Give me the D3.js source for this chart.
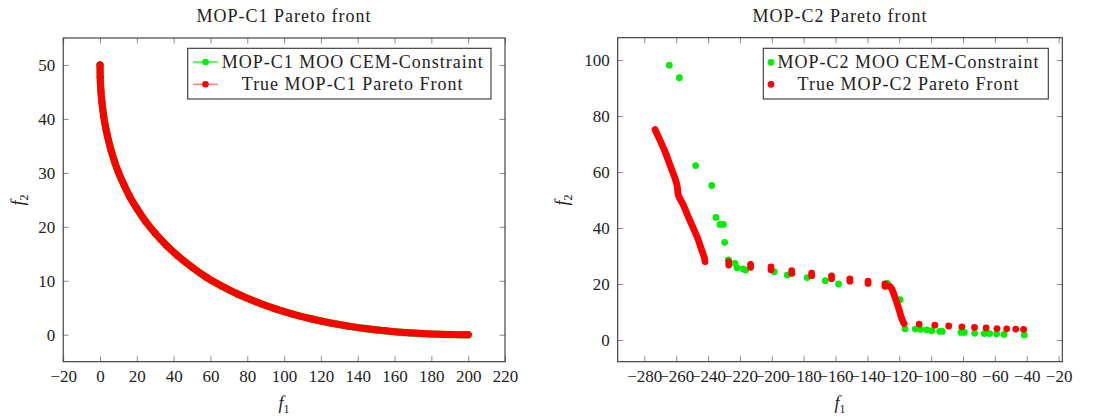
<!DOCTYPE html>
<html><head><meta charset="utf-8">
<script src="https://cdn.jsdelivr.net/npm/d3@7"></script>
<style>
body{margin:0;background:#fff;}
svg text{font-family:"Liberation Serif","Times New Roman",serif !important;fill:#222;}
</style></head><body>
<svg id="c" width="1096" height="418" font-family="Liberation Serif"></svg>
<script>
// ---------- MOP-C1 ----------
const c1TrueF1 = [0,0.1,0.5,1,2,3,4,6,8,10,13,16,20,25,30,36,42,50,58,66,75,85,95,105,115,125,135,145,155,165,175,185,192,200];
const c1TrueF2 = [50,47.8,45.1,43.2,40.5,38.5,36.9,34.2,32,30.1,27.8,25.7,23.4,20.9,18.8,16.6,14.7,12.5,10.6,9.05,7.51,6.06,4.83,3.79,2.92,2.19,1.59,1.10,0.72,0.42,0.21,0.07,0.02,0];
const c1MooF1 = [0,0.1,0.5,1,2,3,4,6,8,10,13,16,20,25,30,36,42,50,58,66,75,85,95,105,115,125,135,145,155,165,175,185,192,200];
const c1MooF2 = [50,47.8,45.1,43.2,40.5,38.5,36.9,34.2,32,30.1,27.8,25.7,23.4,20.9,18.8,16.6,14.7,12.5,10.6,9.05,7.51,6.06,4.83,3.79,2.92,2.19,1.59,1.10,0.72,0.42,0.21,0.07,0.02,0];
const c1XTicks = [-20,0,20,40,60,80,100,120,140,160,180,200,220];
const c1YTicks = [0,10,20,30,40,50];

// ---------- MOP-C2 ----------
const c2MooF1 = [-264.3,-258.0,-247.8,-237.7,-235.0,-232.5,-230.4,-229.6,-227.3,-223.1,-221.8,-217.9,-216.4,-198.5,-190.3,-177.8,-166.5,-158.1,-127.5,-119.5,-116.4,-109.9,-106.6,-102.8,-99.6,-94.6,-93.0,-81.3,-79.2,-72.7,-66.7,-63.3,-58.9,-54.2,-41.6];
const c2MooF2 = [98.2,93.7,62.3,55.2,43.8,41.3,41.3,34.9,28.6,27.4,25.8,25.4,25.0,24.4,23.2,22.3,21.2,20.0,20.2,14.4,4.0,3.9,3.8,3.6,3.3,3.1,3.1,2.7,2.7,2.4,2.3,2.3,2.2,2.0,1.8];
const c2TrueDense1F1 = [-273.3,-270.2,-267.0,-263.9,-260.7,-259.3,-258.7,-255.5,-252.4,-249.2,-246.1,-244.0,-242.5,-241.9];
const c2TrueDense1F2 = [75.2,71.4,67.3,62.5,57.7,54.8,51.8,48.2,44.0,39.9,35.7,32.1,29.8,28.0];
const c2TrueDense2F1 = [-126.5,-125.0,-123.8,-122.5,-121.2,-120.0,-119.0,-118.0,-117.0];
const c2TrueDense2F2 = [19.3,18.6,17.0,15.0,12.8,10.6,8.6,7.0,5.9];
const c2TrueSparseF1 = [-227.0,-227.0,-213.3,-213.3,-200.5,-200.5,-187.5,-187.5,-175.0,-175.0,-162.5,-162.5,-151.0,-151.0,-139.6,-139.6,-129.0,-129.0,-107.5,-97.7,-89.0,-80.7,-72.8,-65.5,-58.7,-52.6,-46.9,-42.0];
const c2TrueSparseF2 = [27.9,26.8,27.0,26.0,26.1,25.1,24.8,23.8,23.9,23.0,22.9,21.9,21.8,21.0,21.0,20.2,20.0,19.2,5.7,5.3,5.0,4.7,4.5,4.3,4.1,4.0,3.9,3.8];
const c2XTicks = [-280,-260,-240,-220,-200,-180,-160,-140,-120,-100,-80,-60,-40,-20];
const c2YTicks = [0,20,40,60,80,100];

const GREEN = "#00ee00", RED = "#ff0000";
const FONT = "Liberation Serif";
const svg = d3.select("#c");
const zip = (a,b) => a.map((v,i)=>[v,b[i]]);

function frame(g, x, y, xt, yt, x0,x1,y0,y1){
  const ts = -5.5;
  const axes = [
    g.append("g").attr("transform",`translate(0,${y1})`)
      .call(d3.axisBottom(x).tickValues(xt).tickSize(ts).tickPadding(8).tickFormat(d3.format("d"))),
    g.append("g").attr("transform",`translate(0,${y0})`)
      .call(d3.axisTop(x).tickValues(xt).tickSize(ts).tickFormat("")),
    g.append("g").attr("transform",`translate(${x0},0)`)
      .call(d3.axisLeft(y).tickValues(yt).tickSize(ts).tickPadding(8).tickFormat(d3.format("d"))),
    g.append("g").attr("transform",`translate(${x1},0)`)
      .call(d3.axisRight(y).tickValues(yt).tickSize(ts).tickFormat(""))
  ];
  axes.forEach(a=>a.attr("font-family",FONT).attr("font-size",17));
  g.selectAll(".domain").remove();
  g.selectAll(".tick line").attr("stroke","#8a8a8a").attr("stroke-width",1);
  g.selectAll(".tick text").attr("fill","#222").attr("font-family",FONT).attr("font-size",17);
  g.append("rect").attr("x",x0).attr("y",y0).attr("width",x1-x0).attr("height",y1-y0)
    .attr("fill","none").attr("stroke","#333").attr("stroke-width",1.1);
}
function axisLabel(g, txt, x, y, rot){
  const t = g.append("text").attr("text-anchor","middle").attr("font-size",18).attr("font-family",FONT)
    .attr("transform",`translate(${x},${y})${rot?" rotate(-90)":""}`);
  t.append("tspan").attr("font-style","italic").text("f");
  t.append("tspan").attr("font-size",12).attr("dy",4).text(txt);
}
function title(g, txt, x){
  g.append("text").attr("x",x).attr("y",22).attr("text-anchor","middle").attr("font-family",FONT)
    .attr("font-size",18).attr("font-weight","normal").attr("letter-spacing","1px").text(txt);
}

// ----- Left chart -----
{
  const x0=63.2,x1=505,y0=38,y1=361.7;
  const x = d3.scaleLinear().domain([-20,220]).range([x0,x1]);
  const y = d3.scaleLinear().domain([-5,55]).range([y1,y0]);
  const g = svg.append("g");
  const line = d3.line().x(d=>x(d[0])).y(d=>y(d[1])).curve(d3.curveMonotoneX);
  const moo = zip(c1MooF1,c1MooF2), tru = zip(c1TrueF1,c1TrueF2);
  g.append("path").datum(moo).attr("d",line).attr("fill","none").attr("stroke",GREEN)
    .attr("stroke-width",7.4).attr("stroke-linecap","round").attr("stroke-linejoin","round");
  g.append("path").datum(tru).attr("d",line).attr("fill","none").attr("stroke",RED)
    .attr("stroke-width",7).attr("stroke-linecap","round").attr("stroke-linejoin","round");
  g.selectAll("circle.t").data(tru).join("circle").attr("cx",d=>x(d[0])).attr("cy",d=>y(d[1])).attr("r",3.5).attr("fill",RED);
  frame(g,x,y,c1XTicks,c1YTicks,x0,x1,y0,y1);
  title(g,"MOP-C1 Pareto front",(x0+x1)/2);
  axisLabel(g,"1",(x0+x1)/2,409,false);
  axisLabel(g,"2",24,200,true);
  const lg = g.append("g");
  lg.append("rect").attr("x",187.7).attr("y",48.3).attr("width",303.3).attr("height",50.7)
    .attr("fill","#fff").attr("stroke","#333").attr("stroke-width",1.1);
  [[GREEN,62,"MOP-C1 MOO CEM-Constraint",1],[RED,84.3,"True MOP-C1 Pareto Front",0.6]].forEach(([c,yy,t,op])=>{
    lg.append("line").attr("x1",193).attr("x2",218).attr("y1",yy).attr("y2",yy).attr("stroke",c).attr("stroke-opacity",op).attr("stroke-width",1.2);
    lg.append("circle").attr("cx",205.5).attr("cy",yy).attr("r",3.3).attr("fill",c);
    lg.append("text").attr("x",352.7).attr("y",yy+6).attr("text-anchor","middle").attr("font-family",FONT).attr("font-size",18).attr("letter-spacing","1px").text(t);
  });
}

// ----- Right chart -----
{
  const x0=617.7,x1=1062.3,y0=37.7,y1=361.7;
  const x = d3.scaleLinear().domain([-296.7,-17.7]).range([x0,x1]);
  const y = d3.scaleLinear().domain([-7.75,108]).range([y1,y0]);
  const g = svg.append("g");
  const moo = zip(c2MooF1,c2MooF2);
  g.selectAll("circle.m").data(moo).join("circle").attr("class","m").attr("cx",d=>x(d[0])).attr("cy",d=>y(d[1])).attr("r",3.4).attr("fill",GREEN);
  const line = d3.line().x(d=>x(d[0])).y(d=>y(d[1])).curve(d3.curveCatmullRom);
  [zip(c2TrueDense1F1,c2TrueDense1F2), zip(c2TrueDense2F1,c2TrueDense2F2)].forEach(seg=>{
    g.append("path").datum(seg).attr("d",line).attr("fill","none").attr("stroke",RED)
      .attr("stroke-width",6.8).attr("stroke-linecap","round").attr("stroke-linejoin","round");
  });
  g.selectAll("circle.s").data(zip(c2TrueSparseF1,c2TrueSparseF2)).join("circle").attr("class","s")
    .attr("cx",d=>x(d[0])).attr("cy",d=>y(d[1])).attr("r",3.4).attr("fill",RED);
  frame(g,x,y,c2XTicks,c2YTicks,x0,x1,y0,y1);
  title(g,"MOP-C2 Pareto front",(x0+x1)/2);
  axisLabel(g,"1",(x0+x1)/2,409,false);
  axisLabel(g,"2",568,200,true);
  const lg = g.append("g");
  lg.append("rect").attr("x",763.3).attr("y",48.3).attr("width",285).attr("height",50.7)
    .attr("fill","#fff").attr("stroke","#333").attr("stroke-width",1.1);
  [[GREEN,62.3,"MOP-C2 MOO CEM-Constraint"],[RED,84.3,"True MOP-C2 Pareto Front"]].forEach(([c,yy,t])=>{
    lg.append("circle").attr("cx",771).attr("cy",yy).attr("r",3.4).attr("fill",c);
    lg.append("text").attr("x",908.5).attr("y",yy+6).attr("text-anchor","middle").attr("font-family",FONT).attr("font-size",18).attr("letter-spacing","1px").text(t);
  });
}
</script></body></html>
